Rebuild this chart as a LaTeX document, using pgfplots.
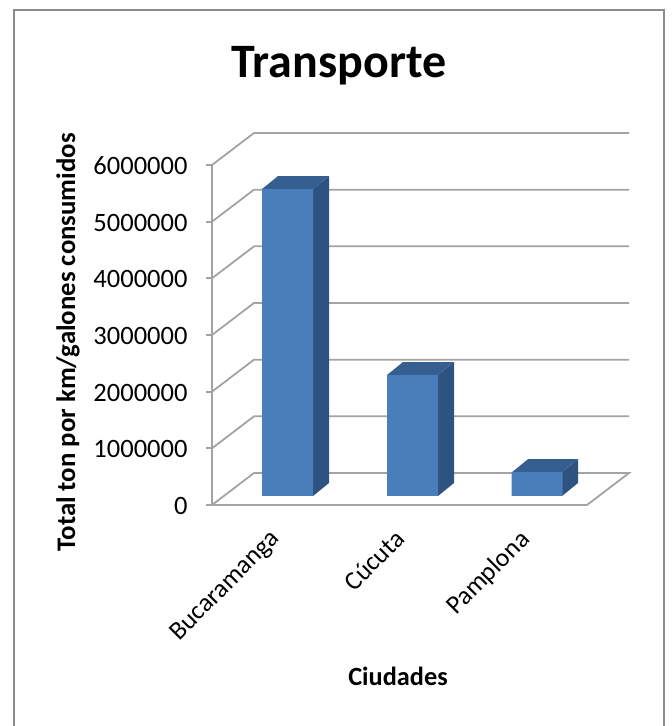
\documentclass[border=0pt]{standalone}
\usepackage{fontspec}
\setmainfont{Carlito}
\usepackage{pgfplots}
\pgfplotsset{compat=1.18}
\definecolor{gridgray}{HTML}{A3A3A3}
\definecolor{framegray}{HTML}{8C8C8C}
\definecolor{barfront}{HTML}{4A7EBB}
\definecolor{barside}{HTML}{2F5380}
\definecolor{bartop}{HTML}{365F91}
\begin{document}
\begin{tikzpicture}[x=1pt,y=1pt]
\useasboundingbox (0,0) rectangle (672,726);
\draw[framegray,line width=2pt] (14,0) -- (14,716) -- (664,716) -- (664,0);
\begin{axis}[
at={(212pt,221pt)},
anchor=south west,
scale only axis,
width=417pt,
height=372pt,
xmin=212,
xmax=629,
ymin=0,
ymax=6564700,
clip=false,
axis line style={draw=none},
ytick={0,1000000,2000000,3000000,4000000,5000000,6000000},
xtick={287.5,412.5,537},
xticklabels={Bucaramanga,Cúcuta,Pamplona},
scaled ticks=false,
ytick pos=left,
tick align=outside,
ytick style={draw=gridgray,line width=1.8pt},
xtick style={draw=none},
major tick length=6pt,
yticklabel style={font=\fontsize{26.5}{30}\selectfont,xshift=-15pt,yshift=-1pt,/pgf/number format/fixed,/pgf/number format/1000 sep={},/pgf/number format/assume math mode=true},
xticklabel style={font=\fontsize{26}{30}\selectfont,rotate=45,anchor=north east,xshift=-22pt,yshift=4.7pt},
title={\fontsize{48}{55}\selectfont\bfseries Transporte},
title style={at={(axis cs:339,7641000)},anchor=center},
xlabel={\fontsize{26.3}{30}\selectfont\bfseries Ciudades},
xlabel style={at={(axis cs:398,-3017000)},anchor=center},
ylabel={\fontsize{26.8}{31}\selectfont\bfseries Total ton por km/galones consumidos},
ylabel style={at={(axis cs:68,2870000)},anchor=center,rotate=0},
]
% walls and floor
\addplot[gridgray,line width=1.8pt] coordinates {(212,0) (254,564700) (629,564700) (587,0) (212,0)};
\addplot[gridgray,line width=1.8pt] coordinates {(212,1000000) (254,1564700) (629,1564700)};
\addplot[gridgray,line width=1.8pt] coordinates {(212,2000000) (254,2564700) (629,2564700)};
\addplot[gridgray,line width=1.8pt] coordinates {(212,3000000) (254,3564700) (629,3564700)};
\addplot[gridgray,line width=1.8pt] coordinates {(212,4000000) (254,4564700) (629,4564700)};
\addplot[gridgray,line width=1.8pt] coordinates {(212,5000000) (254,5564700) (629,5564700)};
\addplot[gridgray,line width=1.8pt] coordinates {(212,6000000) (254,6564700) (629,6564700)};
\addplot[gridgray,line width=1.8pt] coordinates {(212,0) (212,6000000)};
% bar sides and tops, offset to the bar plane
\addplot[draw=none,fill=barside,yshift=9pt] coordinates {(313,0) (329,229400) (329,5646400) (313,5417000)} -- cycle;
\addplot[draw=none,fill=bartop,yshift=9pt] coordinates {(262,5417000) (313,5417000) (329,5646400) (278,5646400)} -- cycle;
\addplot[draw=none,fill=barside,yshift=9pt] coordinates {(438,0) (454,229400) (454,2364400) (438,2135000)} -- cycle;
\addplot[draw=none,fill=bartop,yshift=9pt] coordinates {(387,2135000) (438,2135000) (454,2364400) (403,2364400)} -- cycle;
\addplot[draw=none,fill=barside,yshift=9pt] coordinates {(562,0) (578,229400) (578,649400) (562,420000)} -- cycle;
\addplot[draw=none,fill=bartop,yshift=9pt] coordinates {(512,420000) (562,420000) (578,649400) (528,649400)} -- cycle;
% bar fronts
\addplot[ybar,bar width=51pt,bar shift=0pt,draw=none,fill=barfront,yshift=9pt] coordinates {(287.5,5417000) (412.5,2135000) (537,420000)};
\end{axis}
\end{tikzpicture}
\end{document}
